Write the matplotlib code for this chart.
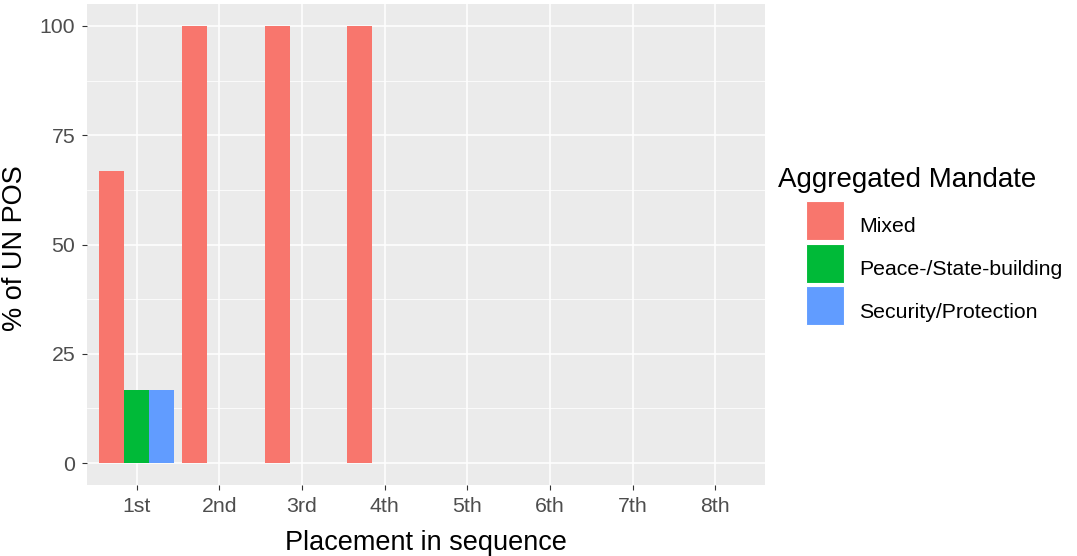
import numpy as np
import matplotlib.pyplot as plt
from matplotlib.patches import Rectangle

plt.rcParams['font.family'] = ['Liberation Sans', 'DejaVu Sans']

# Data
placements = ["1st", "2nd", "3rd", "4th", "5th", "6th", "7th", "8th"]
mandates = ["Mixed", "Peace-/State-building", "Security/Protection"]
mixed = [66.7, 100, 100, 100, 0, 0, 0, 0]
peace_state = [16.7, 0, 0, 0, 0, 0, 0, 0]
security = [16.7, 0, 0, 0, 0, 0, 0, 0]
colors = ["#F8766D", "#00BA38", "#619CFF"]

W, H = 1077, 556
fig = plt.figure(figsize=(W / 100, H / 100), dpi=100)
ax = fig.add_axes([87 / W, 1 - 485 / H, (765 - 87) / W, (485 - 4) / H])
ax.set_facecolor("#EBEBEB")

x = np.arange(1, len(placements) + 1)
width = 0.3
for i, (vals, col) in enumerate(zip([mixed, peace_state, security], colors)):
    ax.bar(x + (i - 1) * width, vals, width=width, color=col, zorder=3)

ax.set_xlim(0.4, 8.6)
ax.set_ylim(-5, 105)
ax.set_xticks(x)
ax.set_xticklabels(placements)
ax.set_yticks([0, 25, 50, 75, 100])
ax.set_yticks([12.5, 37.5, 62.5, 87.5], minor=True)
ax.grid(which="major", color="white", linewidth=1.1, zorder=0)
ax.grid(which="minor", axis="y", color="white", linewidth=0.55, zorder=0)
ax.set_axisbelow(True)
for s in ax.spines.values():
    s.set_visible(False)
ax.tick_params(which="major", length=3.5, width=0.8, color="#333333",
               labelsize=15.3, labelcolor="#4D4D4D", pad=5)
ax.tick_params(which="minor", length=0)

fig.text(15 / W, 1 - 248 / H, "% of UN POS", rotation=90,
         ha="center", va="center", fontsize=19.5, color="black")
fig.text(426 / W, 1 - 550 / H, "Placement in sequence",
         ha="center", va="baseline", fontsize=19.5, color="black")

# Legend
fig.text(778 / W, 1 - 187 / H, "Aggregated Mandate",
         ha="left", va="baseline", fontsize=20, color="black")
key_tops = [201, 244, 286]
baselines = [232, 275, 318]
for name, col, top, base in zip(mandates, colors, key_tops, baselines):
    fig.patches.append(Rectangle((806 / W, 1 - (top + 39) / H),
                                 38 / W, 39 / H, transform=fig.transFigure,
                                 facecolor=col, edgecolor="white", linewidth=0.8))
    fig.text(859 / W, 1 - base / H, name, ha="left", va="baseline",
             fontsize=15.3, color="black")

fig.savefig("out.png", dpi=100)
